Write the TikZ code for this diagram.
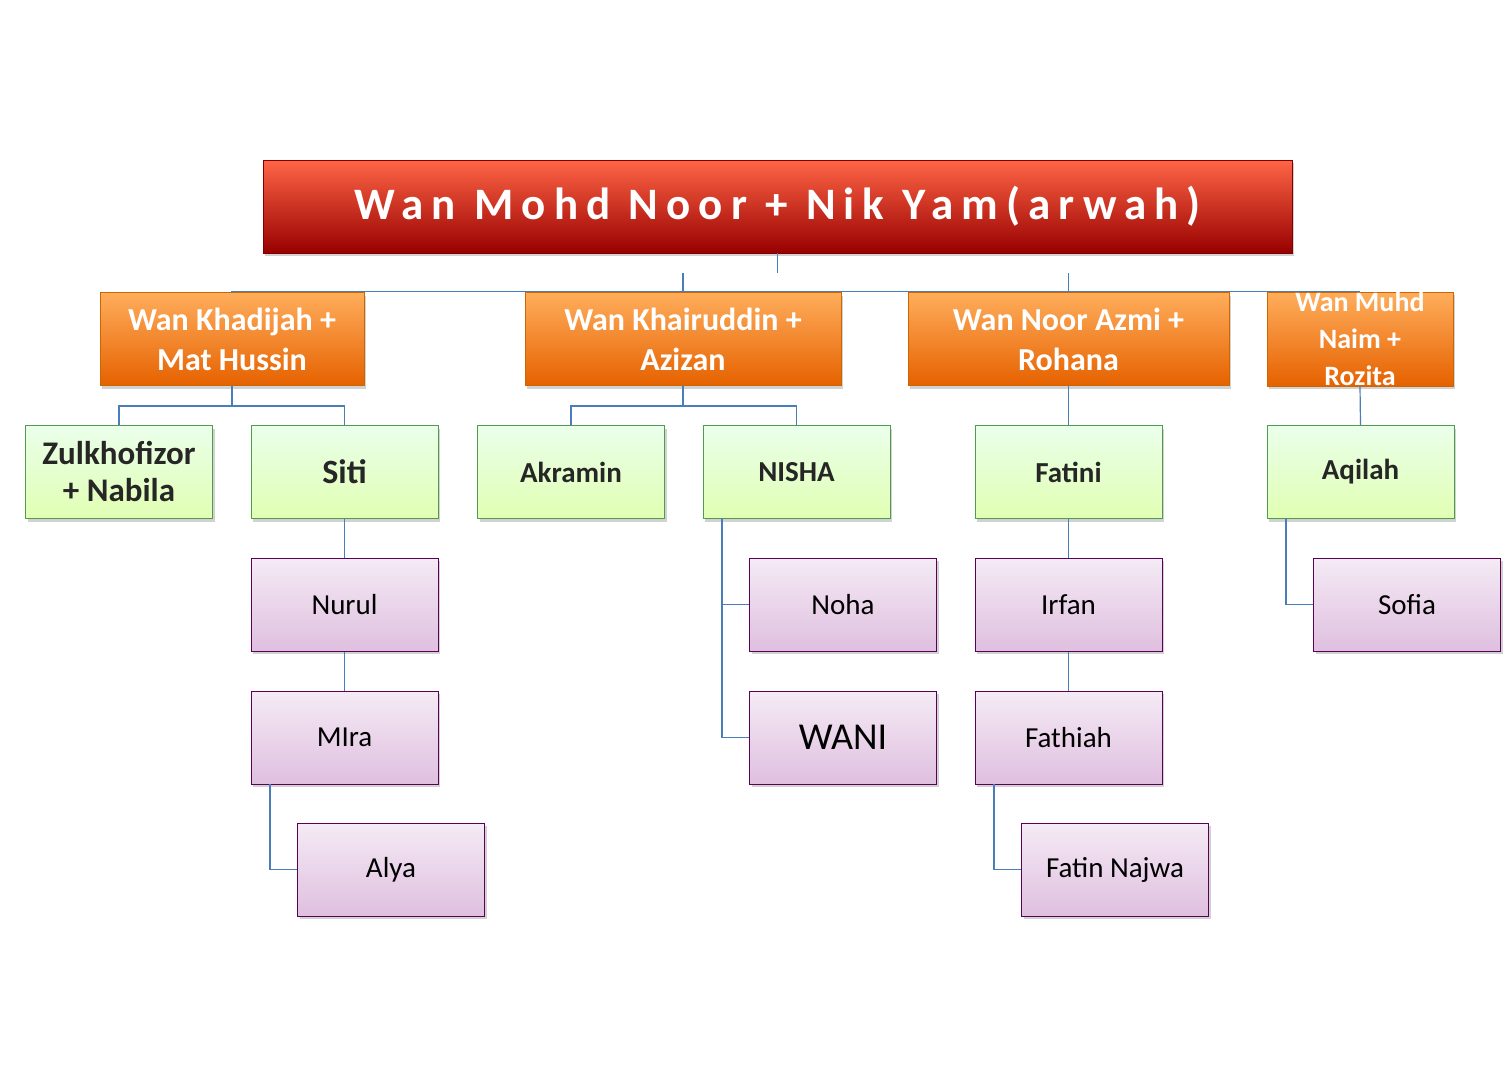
\documentclass[tikz,border=0pt]{standalone}
\usepackage{fontspec}
\setmainfont{Carlito}
\newfontfamily\spaced[LetterSpace=18]{Carlito}
\usetikzlibrary{shadows}
\definecolor{ln}{HTML}{4A7EBB}
\tikzset{
 box/.style={minimum width=#1pt,minimum height=93pt,inner sep=0pt,align=center,drop shadow={shadow xshift=2pt,shadow yshift=-3pt,opacity=.35}},
 redbox/.style={box=1029,top color=red!60!orange!70!white!90!red,bottom color=red!55!black!90!red,draw=red!50!black,line width=.6pt,text=white,font=\spaced\bfseries\fontsize{45}{50}\selectfont},
 orbox/.style={box=#1,top color=orange!60!white!90!orange,bottom color=orange!85!red!90!black,draw=orange!80!black,line width=.6pt,text=white,font=\bfseries\fontsize{32}{40}\selectfont},
 grbox/.style={box=187,top color=green!8!white,bottom color=green!40!yellow!30!white,draw=green!45!black!70!white,line width=1pt,text=black!85,font=\bfseries\fontsize{29}{34}\selectfont},
 pubox/.style={box=187,top color=violet!8!white,bottom color=violet!25!white,draw=violet!70!black,line width=1pt,text=black,font=\fontsize{29}{34}\selectfont},
 con/.style={draw=ln,line width=1.2pt}
}
\begin{document}
\begin{tikzpicture}[x=1pt,y=-1pt]
\useasboundingbox[fill=white] (0,0) rectangle (1510,1077);
\node[redbox] (top) at (777.5,206.5) {Wan Mohd Noor + Nik Yam(arwah)};
\node[orbox=264] (o1) at (232,339) {Wan Khadijah +\\Mat Hussin};
\node[orbox=316] (o2) at (683,339) {Wan Khairuddin +\\Azizan};
\node[orbox=321] (o3) at (1068.5,339) {Wan Noor Azmi +\\Rohana};
\node[orbox=186,font=\bfseries\fontsize{28}{37}\selectfont] (o4) at (1360,339) {Wan Muhd\\Naim +\\Rozita};
\node[grbox,font=\bfseries\fontsize{33}{37}\selectfont] (g1) at (119,472) {Zulkhofizor\\+ Nabila};
\node[grbox,font=\bfseries\fontsize{34}{38}\selectfont] (g2) at (344.5,472) {Siti};
\node[grbox] (g3) at (571,472) {Akramin};
\node[grbox] (g4) at (796.5,472) {NISHA};
\node[grbox] (g5) at (1068.5,472) {Fatini};
\node[grbox] (g6) at (1360.5,472) {Aqilah};
\node[pubox] (nurul) at (344.5,604.5) {Nurul};
\node[pubox] (mira) at (344.5,737.5) {MIra};
\node[pubox] (alya) at (391,869.5) {Alya};
\node[pubox] (noha) at (843,604.5) {Noha};
\node[pubox,font=\fontsize{38}{40}\selectfont] (wani) at (843,737.5) {WANI};
\node[pubox] (irfan) at (1068.5,604.5) {Irfan};
\node[pubox] (fathiah) at (1068.5,737.5) {Fathiah};
\node[pubox] (najwa) at (1115,869.5) {Fatin Najwa};
\node[pubox] (sofia) at (1407,604.5) {Sofia};
\begin{scope}[on background layer/.style={}]
\end{scope}
% connectors
\draw[con] (top.south) -- (777.5,273);
\draw[con] (o1.north) |- (o4.north) ;
\draw[con] (o2.north) -- (683,273);
\draw[con] (o3.north) -- (1068.5,273);
\draw[con] (o1.south) -- (232,406) -| (g1.north);
\draw[con] (232,406) -| (g2.north);
\draw[con] (o2.south) -- (683,406) -| (g3.north);
\draw[con] (683,406) -| (g4.north);
\draw[con] (o3.south) -- (g5.north);
\draw[con] (o4.south) -- (g6.north);
\draw[con] (g2.south) -- (nurul.north);
\draw[con] (nurul.south) -- (mira.north);
\draw[con] (270,784) |- (alya.west);
\draw[con] (722,518) |- (wani.west);
\draw[con] (722,604.5) -- (noha.west);
\draw[con] (g5.south) -- (irfan.north);
\draw[con] (irfan.south) -- (fathiah.north);
\draw[con] (994,784) |- (najwa.west);
\draw[con] (1286,518) |- (sofia.west);
\end{tikzpicture}
\end{document}
